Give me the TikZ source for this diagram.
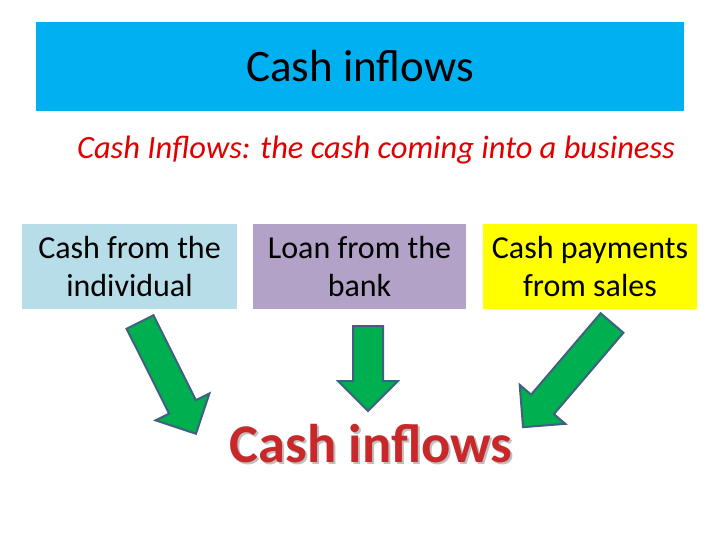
\documentclass[tikz,border=0pt]{standalone}
\usepackage{fontspec}
\setmainfont{Carlito}
\definecolor{titleblue}{HTML}{00B0F0}
\definecolor{boxblue}{HTML}{B7DDE8}
\definecolor{boxlav}{HTML}{B3A2C7}
\definecolor{boxyel}{HTML}{FFFF00}
\definecolor{arrgreen}{HTML}{00B050}
\definecolor{arredge}{HTML}{3F6180}
\definecolor{redtxt}{HTML}{E00000}
\definecolor{bigred}{HTML}{C8282A}
\newcommand\blockarrow[3]{%
  \begin{scope}[shift={#1},rotate=#2]
  \draw[barrow] (0,-15)--({#3-30},-15)--({#3-30},-30)--(#3,0)--({#3-30},30)--({#3-30},15)--(0,15)--cycle;
  \end{scope}}
\begin{document}
\begin{tikzpicture}[x=1pt,y=-1pt,
  barrow/.style={fill=arrgreen,draw=arredge,line width=2pt,line join=miter},
  cbox/.style={minimum width=215pt,minimum height=85pt,align=center,font=\fontsize{32}{38}\selectfont,inner sep=0pt}]
\useasboundingbox (0,0) rectangle (720,540);
\fill[white] (0,0) rectangle (720,540);
\node[fill=titleblue,minimum width=648pt,minimum height=89pt,font=\fontsize{45}{50}\selectfont] (title) at (360,66.5) {Cash inflows};
\node[text=redtxt,font=\itshape\fontsize{32.5}{36}\selectfont] (sub) at (376,150) {Cash Inflows: the cash coming into a business};
\node[cbox,fill=boxblue] (b1) at (129.5,266.5) {Cash from the\\individual};
\node[cbox,fill=boxlav,minimum width=213pt] (b2) at (359.5,266.5) {Loan from the\\bank};
\node[cbox,fill=boxyel,minimum width=214pt] (b3) at (590,266.5) {Cash payments\\from sales};
\blockarrow{(140,322)}{-63.4}{125}
\blockarrow{(368,326)}{-90}{85}
\blockarrow{(612,323)}{-130.5}{137}
\node[text=gray!50,font=\bfseries\fontsize{54.5}{60}\selectfont] at (373,446) {Cash inflows};
\node[text=bigred,font=\bfseries\fontsize{54.5}{60}\selectfont] (big) at (371,444) {Cash inflows};
\end{tikzpicture}
\end{document}
